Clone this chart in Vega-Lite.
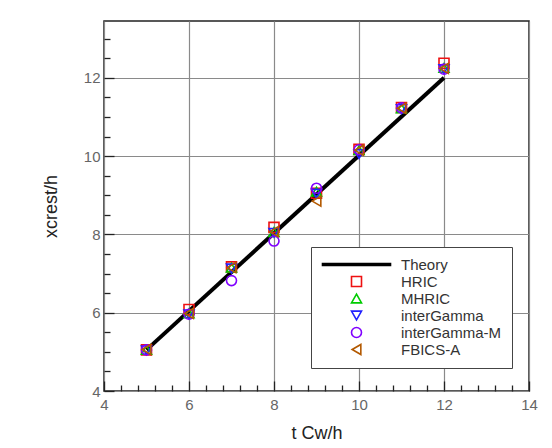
{
  "$schema": "https://vega.github.io/schema/vega-lite/v6.json",
  "width": 425,
  "height": 370,
  "autosize": "none",
  "padding": {"left": 104, "top": 21, "right": 23, "bottom": 57},
  "background": "white",
  "config": {
    "font": "Liberation Sans",
    "view": {"stroke": "#222", "strokeWidth": 1.5},
    "axis": {"labelFont": "Liberation Sans", "titleFont": "Liberation Sans"},
    "legend": {
      "orient": "none",
      "legendX": 207,
      "legendY": 226,
      "strokeColor": "#444",
      "fillColor": "white",
      "padding": 10,
      "rowPadding": 0,
      "symbolOffset": 28,
      "labelOffset": 37,
      "labelFontSize": 15,
      "labelFont": "Liberation Sans",
      "labelColor": "#333",
      "symbolSize": 100,
      "symbolStrokeWidth": 1.6,
      "symbolFillColor": "transparent"
    }
  },
  "data": {
    "values": [
      {"series": "Theory", "t": 5, "x": 5.05},
      {"series": "Theory", "t": 12, "x": 12.0},
      {"series": "HRIC", "t": 5, "x": 5.05},
      {"series": "HRIC", "t": 6, "x": 6.08},
      {"series": "HRIC", "t": 7, "x": 7.17},
      {"series": "HRIC", "t": 8, "x": 8.18},
      {"series": "HRIC", "t": 9, "x": 9.05},
      {"series": "HRIC", "t": 10, "x": 10.17},
      {"series": "HRIC", "t": 11, "x": 11.24},
      {"series": "HRIC", "t": 12, "x": 12.37},
      {"series": "MHRIC", "t": 5, "x": 5.05},
      {"series": "MHRIC", "t": 6, "x": 5.98},
      {"series": "MHRIC", "t": 7, "x": 7.15},
      {"series": "MHRIC", "t": 8, "x": 8.06},
      {"series": "MHRIC", "t": 9, "x": 9.09},
      {"series": "MHRIC", "t": 10, "x": 10.15},
      {"series": "MHRIC", "t": 11, "x": 11.22},
      {"series": "MHRIC", "t": 12, "x": 12.25},
      {"series": "interGamma", "t": 5, "x": 5.04},
      {"series": "interGamma", "t": 6, "x": 5.96},
      {"series": "interGamma", "t": 7, "x": 7.13},
      {"series": "interGamma", "t": 8, "x": 8.04},
      {"series": "interGamma", "t": 9, "x": 9.04},
      {"series": "interGamma", "t": 10, "x": 10.05},
      {"series": "interGamma", "t": 11, "x": 11.2},
      {"series": "interGamma", "t": 12, "x": 12.22},
      {"series": "interGamma-M", "t": 5, "x": 5.05},
      {"series": "interGamma-M", "t": 6, "x": 5.96},
      {"series": "interGamma-M", "t": 7, "x": 6.82},
      {"series": "interGamma-M", "t": 8, "x": 7.83},
      {"series": "interGamma-M", "t": 9, "x": 9.18},
      {"series": "interGamma-M", "t": 10, "x": 10.16},
      {"series": "interGamma-M", "t": 11, "x": 11.23},
      {"series": "interGamma-M", "t": 12, "x": 12.22},
      {"series": "FBICS-A", "t": 5, "x": 5.06},
      {"series": "FBICS-A", "t": 6, "x": 5.98},
      {"series": "FBICS-A", "t": 7, "x": 7.15},
      {"series": "FBICS-A", "t": 8, "x": 8.07},
      {"series": "FBICS-A", "t": 9, "x": 8.85},
      {"series": "FBICS-A", "t": 10, "x": 10.15},
      {"series": "FBICS-A", "t": 11, "x": 11.22},
      {"series": "FBICS-A", "t": 12, "x": 12.24}
    ]
  },
  "layer": [
    {
      "transform": [{"filter": "datum.series === 'Theory'"}],
      "mark": {"type": "line", "strokeWidth": 4, "color": "black"},
      "encoding": {
        "x": {
          "field": "t", "type": "quantitative",
          "scale": {"domain": [4, 14], "nice": false, "zero": false},
          "axis": {
            "orient": "bottom",
            "title": "t Cw/h",
            "values": [4, 6, 8, 10, 12, 14],
            "ticks": false, "domain": false,
            "grid": true, "gridColor": "#8a8a8a", "gridWidth": 1.2, "gridOpacity": 1,
            "labelFontSize": 15, "labelColor": "#666", "labelPadding": 6,
            "labelFlush": false,
            "titleFontSize": 18, "titleFontWeight": "normal", "titleColor": "#222", "titlePadding": 12
          }
        },
        "y": {
          "field": "x", "type": "quantitative",
          "scale": {"domain": [4, 13.45], "nice": false, "zero": false},
          "axis": {
            "orient": "left",
            "title": "xcrest/h",
            "values": [4, 6, 8, 10, 12],
            "ticks": false, "domain": false,
            "grid": true, "gridColor": "#8a8a8a", "gridWidth": 1.2, "gridOpacity": 1,
            "labelFontSize": 15, "labelColor": "#666", "labelPadding": 4,
            "labelFlush": false,
            "titleFontSize": 18, "titleFontWeight": "normal", "titleColor": "#222", "titlePadding": 23
          }
        },
        "color": {
          "field": "series", "type": "nominal",
          "scale": {
            "domain": ["Theory", "HRIC", "MHRIC", "interGamma", "interGamma-M", "FBICS-A"],
            "range": ["#000000", "#ee1111", "#00cc00", "#2222ff", "#8000ff", "#b35900"]
          }
        }
      }
    },
    {
      "transform": [{"filter": "datum.series !== 'Theory'"}],
      "mark": {"type": "point", "filled": false, "size": 100, "strokeWidth": 1.6, "opacity": 1},
      "encoding": {
        "x": {
          "field": "t", "type": "quantitative",
          "scale": {"domain": [4, 14], "nice": false, "zero": false},
          "axis": {
            "orient": "bottom", "title": null, "labels": false, "grid": false, "domain": false,
            "values": [4, 4.4, 4.8, 5.2, 5.6, 6, 6.4, 6.8, 7.2, 7.6, 8, 8.4, 8.8, 9.2, 9.6, 10, 10.4, 10.8, 11.2, 11.6, 12, 12.4, 12.8, 13.2, 13.6, 14],
            "ticks": true, "tickColor": "#222", "tickWidth": 1.3,
            "tickSize": {"condition": {"test": "abs(datum.value % 2) < 0.01", "value": -10}, "value": -6}
          }
        },
        "y": {
          "field": "x", "type": "quantitative",
          "scale": {"domain": [4, 13.45], "nice": false, "zero": false},
          "axis": {
            "orient": "left", "title": null, "labels": false, "grid": false, "domain": false,
            "values": [4, 4.5, 5, 5.5, 6, 6.5, 7, 7.5, 8, 8.5, 9, 9.5, 10, 10.5, 11, 11.5, 12, 12.5, 13],
            "ticks": true, "tickColor": "#222", "tickWidth": 1.3,
            "tickSize": {"condition": {"test": "abs(datum.value % 2) < 0.01", "value": -10}, "value": -6}
          }
        },
        "color": {
          "field": "series", "type": "nominal",
          "scale": {
            "domain": ["Theory", "HRIC", "MHRIC", "interGamma", "interGamma-M", "FBICS-A"],
            "range": ["#000000", "#ee1111", "#00cc00", "#2222ff", "#8000ff", "#b35900"]
          },
          "legend": {"title": null}
        },
        "shape": {
          "field": "series", "type": "nominal",
          "scale": {
            "domain": ["Theory", "HRIC", "MHRIC", "interGamma", "interGamma-M", "FBICS-A"],
            "range": ["M-6.8,-0.18L6.8,-0.18L6.8,0.18L-6.8,0.18Z", "square", "triangle-up", "triangle-down", "circle", "triangle-left"]
          },
          "legend": {"title": null}
        }
      }
    }
  ],
  "resolve": {"axis": {"x": "independent", "y": "independent"}}
}
